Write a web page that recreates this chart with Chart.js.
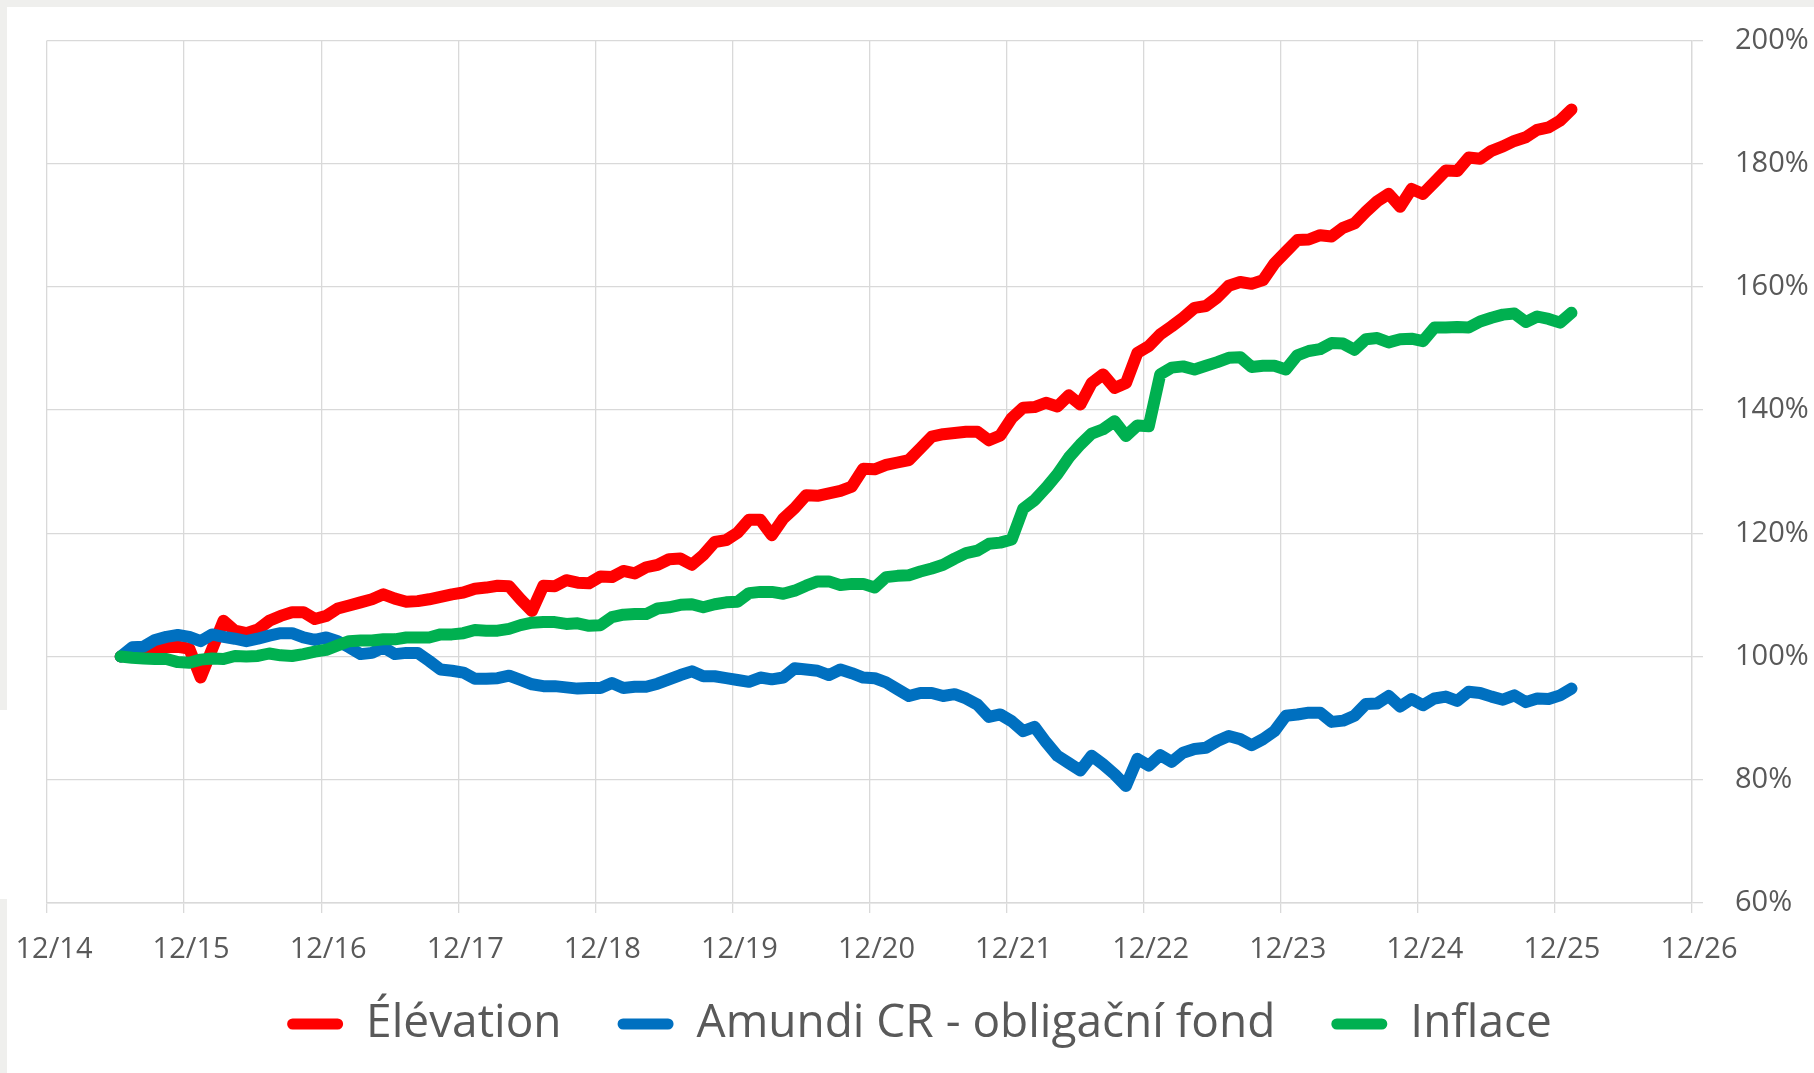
<!DOCTYPE html>
<html>
<head>
<meta charset="utf-8">
<script src="https://cdn.jsdelivr.net/npm/chart.js@4.4.1/dist/chart.umd.min.js"></script>
<style>
  html, body { margin: 0; padding: 0; background: #ffffff; width: 1814px; height: 1073px; overflow: hidden; }
  .strip { position: absolute; background: #efefed; }
  #wrap { position: absolute; left: 7px; top: 7px; width: 1807px; height: 1066px; background: #ffffff; }
</style>
</head>
<body>
<div class="strip" style="left:0;top:0;width:1814px;height:7px"></div>
<div class="strip" style="left:0;top:0;width:7px;height:710px"></div>
<div class="strip" style="left:0;top:899px;width:7px;height:174px"></div>
<div id="wrap"><canvas id="c" width="1807" height="1066"></canvas></div>
<script>
// ---- data (monthly, June 2015 .. January 2026), values in % of start ----
const firstYear = 2015;
const firstMonth = 6;

const elevation = [
  100, 100.5, 100.8, 101.1, 101.5, 101.6, 101.3, 96.6, 101.2, 105.8,
  104.2, 103.8, 104.4, 105.8, 106.6, 107.2, 107.2, 106.1, 106.6, 107.8,
  108.3, 108.8, 109.3, 110.1, 109.4, 108.9, 109.0, 109.3, 109.7, 110.1,
  110.4, 111.0, 111.2, 111.5, 111.4, 109.3, 107.4, 111.5, 111.4, 112.4,
  112.0, 111.9, 113.0, 112.9, 113.9, 113.5, 114.5, 114.9, 115.8, 115.9,
  114.9, 116.5, 118.6, 118.9, 120.1, 122.2, 122.2, 119.7, 122.4, 124.1,
  126.2, 126.1, 126.5, 126.9, 127.6, 130.5, 130.4, 131.1, 131.5, 131.9,
  133.8, 135.7, 136.1, 136.3, 136.5, 136.5, 135.1, 135.9, 138.7, 140.4,
  140.5, 141.2, 140.6, 142.4, 140.9, 144.4, 145.8, 143.6, 144.4, 149.3,
  150.4, 152.3, 153.6, 155.0, 156.6, 156.9, 158.3, 160.2, 160.8, 160.5,
  161.1, 163.8, 165.7, 167.6, 167.7, 168.4, 168.2, 169.6, 170.3, 172.2,
  173.9, 175.1, 173.0, 175.9, 175.1, 177.0, 178.9, 178.8, 181.0, 180.8,
  182.1, 182.8, 183.7, 184.3, 185.5, 185.9, 187.0, 188.8
];

const amundi = [
  100, 101.5, 101.6, 102.7, 103.2, 103.5, 103.2, 102.5, 103.6, 103.2,
  102.9, 102.5, 102.9, 103.4, 103.8, 103.8, 103.1, 102.7, 103.1, 102.5,
  101.5, 100.4, 100.6, 101.5, 100.4, 100.6, 100.6, 99.3, 97.9, 97.7,
  97.4, 96.4, 96.4, 96.5, 96.9, 96.2, 95.5, 95.2, 95.2, 95.0,
  94.8, 94.9, 94.9, 95.7, 94.9, 95.1, 95.1, 95.6, 96.3, 97.0,
  97.6, 96.8, 96.8, 96.5, 96.2, 95.9, 96.6, 96.3, 96.6, 98.1,
  97.9, 97.7, 97.0, 97.9, 97.3, 96.6, 96.5, 95.8, 94.7, 93.6,
  94.1, 94.1, 93.6, 93.9, 93.2, 92.2, 90.2, 90.6, 89.5, 87.9,
  88.6, 86.1, 83.9, 82.7, 81.5, 83.9, 82.5, 80.9, 79.0, 83.4,
  82.3, 84.0, 82.9, 84.4, 85.0, 85.2, 86.3, 87.1, 86.6, 85.6,
  86.6, 87.9, 90.4, 90.6, 90.9, 90.9, 89.4, 89.6, 90.4, 92.3,
  92.4, 93.6, 91.9, 93.1, 92.1, 93.2, 93.5, 92.8, 94.3, 94.1,
  93.5, 93.0, 93.7, 92.6, 93.2, 93.1, 93.7, 94.8
];

const inflace = [
  100, 99.8, 99.7, 99.6, 99.6, 99.1, 99.0, 99.5, 99.7, 99.6,
  100.1, 100.0, 100.1, 100.5, 100.2, 100.1, 100.4, 100.8, 101.1, 101.8,
  102.5, 102.6, 102.6, 102.8, 102.8, 103.1, 103.1, 103.1, 103.6, 103.6,
  103.8, 104.3, 104.2, 104.2, 104.5, 105.1, 105.5, 105.6, 105.6, 105.3,
  105.4, 105.0, 105.1, 106.4, 106.8, 106.9, 106.9, 107.8, 108.0, 108.4,
  108.5, 108.0, 108.5, 108.8, 108.9, 110.3, 110.5, 110.5, 110.2, 110.7,
  111.5, 112.2, 112.2, 111.6, 111.8, 111.8, 111.2, 112.9, 113.1, 113.2,
  113.8, 114.3, 114.9, 115.9, 116.8, 117.2, 118.3, 118.5, 119.0, 124.0,
  125.4, 127.4, 129.6, 132.3, 134.4, 136.2, 136.9, 138.2, 135.8, 137.5,
  137.4, 145.8, 146.9, 147.1, 146.6, 147.2, 147.8, 148.5, 148.6, 147.0,
  147.2, 147.2, 146.6, 148.9, 149.6, 149.9, 150.9, 150.8, 149.8, 151.5,
  151.7, 151.0, 151.5, 151.6, 151.2, 153.4, 153.4, 153.5, 153.4, 154.4,
  155.0, 155.5, 155.7, 154.3, 155.2, 154.8, 154.2, 155.8
];

const seriesNames = ['Élévation', 'Amundi CR - obligační fond', 'Inflace'];
const seriesColors = ['#FF0000', '#0070C0', '#00B050'];
const xTickLabels = ['12/14','12/15','12/16','12/17','12/18','12/19','12/20','12/21','12/22','12/23','12/24','12/25','12/26'];
const yTicks = [60, 80, 100, 120, 140, 160, 180, 200];

// month categories (YYYY-MM) for each observation
const categories = elevation.map((_, i) => {
  const m0 = firstMonth - 1 + i;
  const y = firstYear + Math.floor(m0 / 12);
  const m = (m0 % 12) + 1;
  return y + '-' + String(m).padStart(2, '0');
});
// x position in months since the 12/14 tick (mid-month observation)
const monthPos = categories.map(c => {
  const [y, m] = c.split('-').map(Number);
  return (y - 2014) * 12 + (m - 12) + 0.45;
});

const toPts = arr => arr.map((v, i) => ({ x: monthPos[i], y: v }));
const allSeries = [elevation, amundi, inflace];

const FONT = "'Open Sans', 'Noto Sans', sans-serif";
const TXT = '#595959';
const GRID = '#d9d9d9';

function fixScale(size, dim) {
  return s => {
    s[dim] = size;
    s.paddingLeft = 0; s.paddingRight = 0; s.paddingTop = 0; s.paddingBottom = 0;
    s._computeLabelArea = () => undefined; // do not clip tick labels to the axis box
  };
}

new Chart(document.getElementById('c'), {
  type: 'line',
  data: {
    datasets: allSeries.map((arr, k) => ({
      label: seriesNames[k],
      data: toPts(arr),
      borderColor: seriesColors[k],
      backgroundColor: seriesColors[k],
      borderWidth: 12,
      pointRadius: 0,
      tension: 0,
      borderJoinStyle: 'round',
      borderCapStyle: 'round',
      fill: false,
      order: 3 - k
    }))
  },
  options: {
    responsive: false,
    animation: false,
    events: [],
    layout: { padding: { left: 40, top: 33.5, right: 22, bottom: 16 } },
    scales: {
      x: {
        type: 'linear',
        min: 0,
        max: 144,
        afterBuildTicks: s => { s.ticks = xTickLabels.map((_, i) => ({ value: i * 12 })); },
        afterFit: fixScale(42, 'height'),
        grid: { color: GRID, lineWidth: 1.3, tickLength: 10, drawTicks: true },
        border: { color: GRID, width: 1.6 },
        ticks: {
          autoSkip: false,
          maxRotation: 0,
          padding: 19,
          labelOffset: 7,
          color: TXT,
          font: { family: FONT, size: 29 },
          callback: (v) => xTickLabels[Math.round(v / 12)]
        }
      },
      y: {
        position: 'right',
        min: 60,
        max: 200,
        afterBuildTicks: s => { s.ticks = yTicks.map(v => ({ value: v })); },
        afterFit: fixScale(100, 'width'),
        grid: { color: GRID, lineWidth: 1.3, tickLength: 11, drawTicks: true },
        border: { color: GRID, width: 1.3 },
        ticks: {
          padding: 32,
          color: TXT,
          font: { family: FONT, size: 29 },
          callback: v => v + '%'
        }
      }
    },
    plugins: {
      tooltip: { enabled: false },
      legend: {
        display: true,
        position: 'bottom',
        align: 'center',
        labels: {
          boxWidth: 56,
          boxHeight: 11,
          padding: 56,
          useBorderRadius: true,
          borderRadius: 5.5,
          color: TXT,
          font: { family: FONT, size: 46 },
          generateLabels: chart => chart.data.datasets.map((ds, i) => ({
            text: ds.label,
            fillStyle: ds.borderColor,
            strokeStyle: ds.borderColor,
            lineWidth: 0,
            hidden: false,
            datasetIndex: i,
            fontColor: TXT,
            borderRadius: 5.5
          }))
        }
      }
    }
  }
});
</script>
</body>
</html>
